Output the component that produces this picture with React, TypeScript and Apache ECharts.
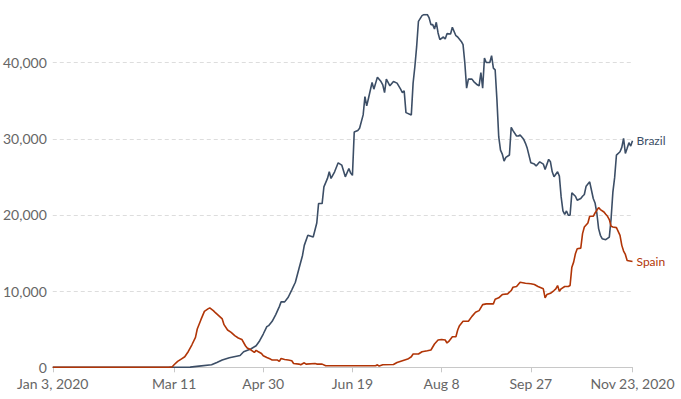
import React, { useEffect, useRef } from "react";
import * as echarts from "echarts";

const tickDates = ["2020-01-03", "2020-03-11", "2020-04-30", "2020-06-19", "2020-08-08", "2020-09-27", "2020-11-23"];
const yTicks = [0, 10000, 20000, 30000, 40000];

const brazilDates = [
  "2020-01-03", "2020-03-11", "2020-03-20", "2020-03-25", "2020-04-01", "2020-04-04", "2020-04-07", "2020-04-11",
  "2020-04-17", "2020-04-19", "2020-04-23", "2020-04-26", "2020-04-28", "2020-04-30", "2020-05-02", "2020-05-03",
  "2020-05-05", "2020-05-07", "2020-05-09", "2020-05-10", "2020-05-12", "2020-05-14", "2020-05-16", "2020-05-18",
  "2020-05-20", "2020-05-22", "2020-05-23", "2020-05-25", "2020-05-28", "2020-05-30", "2020-05-31", "2020-06-02",
  "2020-06-03", "2020-06-05", "2020-06-06", "2020-06-07", "2020-06-09", "2020-06-11", "2020-06-13", "2020-06-15",
  "2020-06-17", "2020-06-18", "2020-06-19", "2020-06-20", "2020-06-22", "2020-06-23", "2020-06-25", "2020-06-26",
  "2020-06-27", "2020-06-28", "2020-06-30", "2020-07-01", "2020-07-03", "2020-07-05", "2020-07-06", "2020-07-07",
  "2020-07-08", "2020-07-10", "2020-07-12", "2020-07-14", "2020-07-16", "2020-07-17", "2020-07-18", "2020-07-19",
  "2020-07-22", "2020-07-23", "2020-07-24", "2020-07-25", "2020-07-26", "2020-07-28", "2020-07-29", "2020-07-31",
  "2020-08-01", "2020-08-02", "2020-08-03", "2020-08-04", "2020-08-05", "2020-08-06", "2020-08-07", "2020-08-09",
  "2020-08-10", "2020-08-11", "2020-08-13", "2020-08-14", "2020-08-16", "2020-08-17", "2020-08-19", "2020-08-20",
  "2020-08-21", "2020-08-22", "2020-08-23", "2020-08-25", "2020-08-26", "2020-08-28", "2020-08-29", "2020-08-30",
  "2020-08-31", "2020-09-01", "2020-09-02", "2020-09-04", "2020-09-05", "2020-09-06", "2020-09-07", "2020-09-08",
  "2020-09-09", "2020-09-10", "2020-09-11", "2020-09-12", "2020-09-13", "2020-09-15", "2020-09-16", "2020-09-17",
  "2020-09-19", "2020-09-20", "2020-09-21", "2020-09-23", "2020-09-24", "2020-09-25", "2020-09-27", "2020-09-29",
  "2020-09-30", "2020-10-02", "2020-10-04", "2020-10-05", "2020-10-07", "2020-10-08", "2020-10-09", "2020-10-10",
  "2020-10-12", "2020-10-13", "2020-10-14", "2020-10-15", "2020-10-16", "2020-10-17", "2020-10-18", "2020-10-19",
  "2020-10-20", "2020-10-22", "2020-10-23", "2020-10-25", "2020-10-26", "2020-10-27", "2020-10-28", "2020-10-30",
  "2020-10-31", "2020-11-01", "2020-11-02", "2020-11-03", "2020-11-04", "2020-11-05", "2020-11-06", "2020-11-08",
  "2020-11-10", "2020-11-11", "2020-11-12", "2020-11-13", "2020-11-14", "2020-11-16", "2020-11-17", "2020-11-18",
  "2020-11-19", "2020-11-20", "2020-11-21", "2020-11-22", "2020-11-23",
];
const brazilCases = [
  0, 0, 20, 150, 330, 630, 950, 1250,
  1550, 2040, 2400, 2830, 3490, 4370, 5340, 5470,
  6040, 6920, 7970, 8590, 8590, 9200, 10170, 11170,
  12940, 14690, 16010, 17330, 17100, 18950, 21500, 21500,
  23690, 24800, 25670, 24800, 25670, 26850, 26550, 25010,
  26110, 25500, 25200, 30900, 31100, 31380, 33140, 35550,
  34320, 35330, 37390, 36520, 38100, 37520, 37090, 36070,
  37840, 36960, 37520, 37310, 36520, 36070, 36300, 33440,
  33140, 37310, 39500, 42130, 45430, 46180, 46310, 46310,
  45870, 44990, 44990, 44430, 45300, 43900, 43020, 43370,
  43110, 43810, 43770, 44640, 43540, 43370, 42790, 42360,
  39950, 36650, 37840, 37840, 37520, 37090, 36960, 38710,
  36650, 40610, 40030, 40030, 40910, 39290, 39060, 35110,
  30280, 28520, 28000, 27070, 27560, 27870, 31510, 31070,
  30370, 30370, 30500, 29930, 29410, 28750, 26850, 26680,
  26420, 26980, 26680, 25980, 27300, 26980, 25670, 25010,
  25670, 25100, 22370, 20530, 20090, 20530, 19960, 19960,
  22900, 22460, 21940, 22160, 22460, 22690, 23780, 24350,
  23250, 22160, 21580, 20260, 18210, 17330, 16890, 16760,
  17100, 19500, 23000, 24930, 27870, 28300, 28880, 30070,
  28090, 28750, 29490, 29050, 29750,
];

const spainDates = [
  "2020-01-03", "2020-03-08", "2020-03-10", "2020-03-11", "2020-03-13", "2020-03-15", "2020-03-17", "2020-03-19",
  "2020-03-21", "2020-03-23", "2020-03-24", "2020-03-26", "2020-03-28", "2020-03-30", "2020-03-31", "2020-04-02",
  "2020-04-03", "2020-04-05", "2020-04-07", "2020-04-08", "2020-04-10", "2020-04-12", "2020-04-14", "2020-04-16",
  "2020-04-18", "2020-04-20", "2020-04-21", "2020-04-23", "2020-04-25", "2020-04-26", "2020-04-27", "2020-04-29",
  "2020-04-30", "2020-05-02", "2020-05-04", "2020-05-05", "2020-05-08", "2020-05-09", "2020-05-10", "2020-05-12",
  "2020-05-14", "2020-05-16", "2020-05-17", "2020-05-20", "2020-05-21", "2020-05-23", "2020-05-24", "2020-05-29",
  "2020-05-30", "2020-06-02", "2020-06-04", "2020-07-02", "2020-07-03", "2020-07-04", "2020-07-06", "2020-07-12",
  "2020-07-14", "2020-07-17", "2020-07-20", "2020-07-22", "2020-07-23", "2020-07-26", "2020-07-28", "2020-07-31",
  "2020-08-02", "2020-08-04", "2020-08-06", "2020-08-08", "2020-08-10", "2020-08-11", "2020-08-12", "2020-08-14",
  "2020-08-16", "2020-08-17", "2020-08-18", "2020-08-20", "2020-08-23", "2020-08-25", "2020-08-27", "2020-08-29",
  "2020-08-31", "2020-09-02", "2020-09-06", "2020-09-07", "2020-09-09", "2020-09-11", "2020-09-14", "2020-09-16",
  "2020-09-17", "2020-09-19", "2020-09-21", "2020-09-24", "2020-09-27", "2020-09-29", "2020-10-01", "2020-10-04",
  "2020-10-05", "2020-10-06", "2020-10-08", "2020-10-10", "2020-10-11", "2020-10-12", "2020-10-13", "2020-10-14",
  "2020-10-16", "2020-10-18", "2020-10-19", "2020-10-20", "2020-10-21", "2020-10-22", "2020-10-23", "2020-10-25",
  "2020-10-26", "2020-10-27", "2020-10-29", "2020-10-30", "2020-11-01", "2020-11-02", "2020-11-04", "2020-11-05",
  "2020-11-07", "2020-11-08", "2020-11-09", "2020-11-10", "2020-11-11", "2020-11-12", "2020-11-14", "2020-11-16",
  "2020-11-17", "2020-11-18", "2020-11-19", "2020-11-20", "2020-11-23",
];
const spainCases = [
  0, 0, 70, 330, 770, 1080, 1380, 2080,
  2960, 3930, 5030, 6220, 7350, 7670, 7800, 7440,
  7220, 6790, 6350, 5600, 4900, 4590, 4150, 3850,
  3660, 2830, 2530, 2300, 1950, 2220, 2080, 1820,
  1520, 1290, 1080, 950, 950, 770, 1160, 1030,
  950, 860, 500, 420, 330, 590, 420, 500,
  420, 420, 200, 200, 330, 160, 330, 370,
  630, 860, 1080, 1380, 1740, 1740, 2040, 2170,
  2270, 3060, 3580, 3660, 3580, 3190, 3400, 4020,
  4020, 4900, 5470, 6040, 6040, 6690, 7220, 7440,
  8230, 8330, 8330, 8930, 9120, 9550, 9640, 10080,
  10510, 10610, 11170, 11040, 10960, 10870, 10610, 10300,
  9120, 9550, 9720, 10080, 10300, 10740, 9990, 10300,
  10610, 10610, 10740, 13150, 13810, 14910, 15570, 15650,
  17550, 18420, 18950, 19830, 19830, 20260, 20970, 20710,
  20390, 20090, 19830, 19390, 18510, 18420, 18340, 17330,
  16010, 15260, 14820, 14030, 13900,
];

const MONTHS = ["Jan", "Feb", "Mar", "Apr", "May", "Jun", "Jul", "Aug", "Sep", "Oct", "Nov", "Dec"];
const FONT = "Lato, 'Noto Sans', sans-serif";
const DAY = 86400000;

const toMs = (s: string) => {
  const [y, m, d] = s.split("-").map(Number);
  return Date.UTC(y, m - 1, d);
};
const origin = toMs(tickDates[0]);
const toDay = (s: string) => Math.round((toMs(s) - origin) / DAY);

export default function App() {
  const ref = useRef<HTMLDivElement>(null);

  useEffect(() => {
    document.body.style.margin = "0";
    if (!ref.current) return;
    const chart = echarts.init(ref.current, undefined, { renderer: "svg" });
    const ticks = tickDates.map(toDay);
    const first = ticks[0];
    const last = ticks[ticks.length - 1];

    chart.setOption({
      animation: false,
      backgroundColor: "#ffffff",
      grid: { left: 51, right: 48.5, top: 14.6, bottom: 31.7, containLabel: false },
      xAxis: {
        type: "value",
        min: first,
        max: last,
        axisLine: { show: true, onZero: false, lineStyle: { color: "#c8c8c8", width: 1 } },
        axisTick: { show: true, length: 5, lineStyle: { color: "#c8c8c8" }, customValues: ticks },
        splitLine: { show: false },
        axisLabel: {
          customValues: ticks,
          color: "#666666",
          fontSize: 14,
          fontFamily: FONT,
          margin: 9,
          hideOverlap: false,
          formatter: (v: number) => {
            const dt = new Date(origin + v * DAY);
            const base = `${MONTHS[dt.getUTCMonth()]} ${dt.getUTCDate()}`;
            return v === first || v === last ? `${base}, ${dt.getUTCFullYear()}` : base;
          },
        },
      },
      yAxis: {
        type: "value",
        min: 0,
        max: 46310,
        interval: 10000,
        axisLine: { show: false },
        axisTick: { show: false, customValues: yTicks },
        axisLabel: {
          customValues: yTicks,
          color: "#666666",
          fontSize: 14,
          lineHeight: 12,
          fontFamily: FONT,
          margin: 6,
          formatter: (v: number) => v.toLocaleString("en-US"),
        },
        splitLine: {
          show: true,
          showMinLine: false,
          lineStyle: { color: "#dddddd", type: [4, 3], width: 1 },
        },
      },
      series: [
        {
          name: "Brazil",
          type: "line",
          data: brazilDates.map((d, i) => [toDay(d), brazilCases[i]]),
          showSymbol: false,
          symbol: "none",
          lineStyle: { color: "#3C4E66", width: 1.6 },
          itemStyle: { color: "#3C4E66" },
          endLabel: {
            show: true,
            formatter: "{a}",
            color: "#3C4E66",
            fontSize: 12,
            fontFamily: FONT,
            distance: 4,
          },
        },
        {
          name: "Spain",
          type: "line",
          data: spainDates.map((d, i) => [toDay(d), spainCases[i]]),
          showSymbol: false,
          symbol: "none",
          lineStyle: { color: "#B13507", width: 1.6 },
          itemStyle: { color: "#B13507" },
          endLabel: {
            show: true,
            formatter: "{a}",
            color: "#B13507",
            fontSize: 12,
            fontFamily: FONT,
            distance: 4,
          },
        },
      ],
    });

    return () => chart.dispose();
  }, []);

  return <div ref={ref} style={{ width: 681, height: 399 }} />;
}
